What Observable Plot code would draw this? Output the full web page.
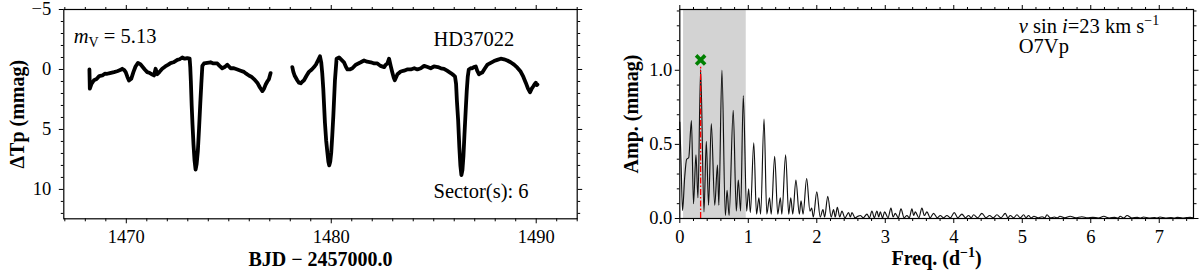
<!DOCTYPE html>
<html>
<head>
<meta charset="utf-8">
<script src="https://cdn.jsdelivr.net/npm/d3@7"></script>
<script src="https://cdn.jsdelivr.net/npm/@observablehq/plot@0.6"></script>
<style>
  html, body { margin: 0; padding: 0; background: #fff; }
  #wrap { display: flex; width: 1200px; height: 272px; overflow: hidden; }
  #wrap svg { flex: none; }
</style>
</head>
<body>
<div id="wrap"></div>
<script>
// ---------------- Light curve (left panel) ----------------
const lcTime1 = [1468.20,1468.22,1468.30,1468.42,1468.55,1468.68,1468.83,1468.95,1469.07,1469.20,1469.40,1469.55,1469.70,1469.80,1469.90,1469.97,1470.05,1470.13,1470.24,1470.35,1470.45,1470.57,1470.68,1470.78,1470.90,1471.02,1471.15,1471.25,1471.35,1471.43,1471.51,1471.62,1471.75,1471.90,1472.05,1472.16,1472.30,1472.49,1472.60,1472.73,1472.85,1472.98,1473.09,1473.12,1473.15,1473.19,1473.23,1473.28,1473.33,1473.38,1473.43,1473.49,1473.55,1473.61,1473.66,1473.71,1473.79,1473.95,1474.11,1474.25,1474.44,1474.55,1474.68,1474.80,1474.93,1475.09,1475.25,1475.42,1475.58,1475.74,1475.85,1475.98,1476.10,1476.23,1476.39,1476.52,1476.64,1476.72,1476.80,1476.88,1476.96,1477.04];
const lcMag1  = [0.0,1.6,1.2,0.9,0.8,0.55,0.5,0.35,0.36,0.3,0.22,0.15,0.05,-0.06,0.05,0.22,0.6,0.92,0.78,0.2,-0.25,-0.55,-0.45,-0.25,0.0,0.22,0.3,0.4,0.5,-0.06,0.4,0.2,-0.06,-0.25,-0.4,-0.53,-0.6,-0.8,-0.85,-1.0,-0.9,-0.95,-0.9,-0.2,1.0,3.0,4.6,6.3,7.6,8.35,7.9,6.8,4.9,2.8,1.2,-0.3,-0.5,-0.55,-0.6,-0.5,-0.5,-0.3,-0.1,-0.2,-0.4,-0.1,-0.1,0.0,0.1,0.2,0.35,0.5,0.6,0.8,1.1,1.5,1.8,1.6,1.25,1.0,0.8,0.3];

const lcTime2 = [1478.10,1478.15,1478.21,1478.34,1478.42,1478.51,1478.60,1478.67,1478.80,1478.91,1479.05,1479.16,1479.25,1479.35,1479.45,1479.51,1479.56,1479.61,1479.69,1479.75,1479.81,1479.86,1479.90,1479.95,1480.00,1480.05,1480.10,1480.18,1480.26,1480.38,1480.50,1480.62,1480.72,1480.79,1480.90,1481.03,1481.20,1481.32,1481.44,1481.60,1481.75,1481.93,1482.10,1482.25,1482.40,1482.58,1482.66,1482.74,1482.82,1482.90,1482.98,1483.05,1483.10,1483.23,1483.39,1483.55,1483.70,1483.88,1484.05,1484.20,1484.37,1484.53,1484.70,1484.85,1485.01,1485.20,1485.35,1485.50,1485.65,1485.83,1485.95,1486.04,1486.09,1486.13,1486.19,1486.25,1486.30,1486.35,1486.40,1486.45,1486.50,1486.56,1486.61,1486.66,1486.71,1486.80,1486.88,1486.96,1487.05,1487.12,1487.21,1487.30,1487.37,1487.50,1487.62,1487.78,1487.94,1488.10,1488.27,1488.43,1488.59,1488.75,1488.92,1489.08,1489.24,1489.37,1489.49,1489.60,1489.70,1489.78,1489.86,1489.93,1489.98,1490.03,1490.06];
const lcMag2  = [-0.2,0.2,0.5,0.9,1.1,1.15,1.0,0.9,0.5,0.2,0.0,-0.2,-0.4,-0.75,-1.1,-0.6,0.3,1.6,4.4,5.9,6.9,7.7,8.0,7.7,6.9,5.5,3.9,0.9,-0.9,-1.0,-0.8,-0.6,-0.2,0.0,0.0,-0.1,-0.4,-0.5,-0.6,-0.75,-0.65,-0.6,-0.5,-0.5,-0.3,-0.2,-0.4,-0.5,-0.9,-0.3,0.25,0.7,0.9,0.4,0.17,0.1,0.0,0.0,-0.1,0.0,-0.1,-0.3,-0.2,-0.1,-0.25,-0.2,-0.1,-0.05,0.1,0.3,0.45,0.6,1.2,2.6,4.2,6.5,8.0,8.8,8.4,7.2,5.4,3.4,1.8,0.6,0.0,-0.1,-0.1,-0.2,-0.25,0.1,0.4,0.3,0.25,-0.1,-0.4,-0.55,-0.7,-0.8,-0.9,-0.85,-0.75,-0.6,-0.4,-0.15,0.17,0.6,1.1,1.6,1.9,1.6,1.4,1.2,1.1,1.3,1.25];

const lcXMajor = [1470, 1480, 1490];
const lcXMinor = [1467,1468,1469,1471,1472,1473,1474,1475,1476,1477,1478,1479,1481,1482,1483,1484,1485,1486,1487,1488,1489,1491,1492];
const lcYMajor = [-5, 0, 5, 10];
const lcYMinor = [-4,-3,-2,-1,1,2,3,4,6,7,8,9,11,12];

// ---------------- Periodogram (right panel) ----------------
const pgFreq = [0.000,0.020,0.040,0.070,0.100,0.130,0.170,0.200,0.236,0.265,0.304,0.353,0.387,0.420,0.460,0.510,0.550,0.570,0.615,0.665,0.690,0.720,0.780,0.825,0.854,0.888,0.927,0.976,1.005,1.030,1.080,1.120,1.155,1.180,1.230,1.270,1.310,1.335,1.385,1.430,1.468,1.490,1.545,1.590,1.620,1.650,1.695,1.745,1.770,1.800,1.852,1.900,1.925,1.950,2.000,2.050,2.090,2.115,2.160,2.210,2.245,2.270,2.300,2.335,2.367,2.410,2.465,2.490,2.513,2.560,2.600,2.635,2.680,2.732,2.770,2.805,2.840,2.878,2.905,2.927,2.960,2.990,3.040,3.083,3.115,3.146,3.190,3.229,3.275,3.316,3.350,3.389,3.415,3.438,3.490,3.535,3.570,3.608,3.655,3.705,3.760,3.803,3.850,3.900,3.950,4.007,4.060,4.119,4.170,4.216,4.255,4.290,4.350,4.411,4.470,4.523,4.575,4.630,4.690,4.752,4.790,4.825,4.875,4.922,4.970,5.020,5.055,5.092,5.130,5.170,5.230,5.290,5.330,5.360,5.410,5.470,5.510,5.550,5.620,5.700,5.780,5.870,5.950,6.030,6.110,6.190,6.270,6.350,6.400,6.430,6.480,6.530,6.600,6.680,6.730,6.770,6.850,6.930,6.970,7.010,7.090,7.170,7.220,7.260,7.340,7.400,7.450,7.500];
const pgAmp  = [0.65,0.35,0.054,0.27,0.40,0.41,0.66,0.10,0.43,0.14,1.005,0.045,0.52,0.09,0.64,0.09,0.36,0.09,1.00,0.02,0.19,0.02,0.73,0.05,0.26,0.05,0.83,0.05,0.20,0.04,0.51,0.03,0.14,0.03,0.67,0.03,0.14,0.03,0.42,0.03,0.14,0.03,0.43,0.03,0.14,0.03,0.26,0.03,0.12,0.03,0.27,0.05,0.07,0.01,0.18,0.01,0.06,0.01,0.15,0.01,0.06,0.01,0.075,0.01,0.05,0.005,0.04,0.01,0.04,0.005,0.015,0.02,0.005,0.03,0.005,0.05,0.005,0.05,0.01,0.045,0.005,0.045,0.005,0.07,0.01,0.035,0.005,0.065,0.005,0.02,0.005,0.065,0.02,0.045,0.005,0.07,0.02,0.045,0.005,0.035,0.005,0.02,0.005,0.02,0.005,0.04,0.005,0.03,0.005,0.02,0.005,0.025,0.005,0.035,0.005,0.02,0.005,0.025,0.005,0.035,0.005,0.02,0.005,0.025,0.005,0.025,0.005,0.02,0.004,0.015,0.004,0.012,0.004,0.025,0.004,0.01,0.004,0.015,0.004,0.015,0.004,0.012,0.004,0.008,0.003,0.015,0.003,0.008,0.003,0.015,0.003,0.02,0.003,0.008,0.003,0.01,0.003,0.007,0.003,0.01,0.003,0.007,0.003,0.008,0.003,0.006,0.008,0.004];

const windowRange = [0.055, 0.97];   // shaded low-frequency region
const peakFreq = 0.304;
const peakLine = 1.02;
const peakMarker = 1.07;

const pgXMajor = [0, 1, 2, 3, 4, 5, 6, 7];
const pgXMinor = [0.2,0.4,0.6,0.8,1.2,1.4,1.6,1.8,2.2,2.4,2.6,2.8,3.2,3.4,3.6,3.8,4.2,4.4,4.6,4.8,5.2,5.4,5.6,5.8,6.2,6.4,6.6,6.8,7.2,7.4];
const pgYMajor = [0, 0.5, 1.0];
const pgYMinor = [0.1,0.2,0.3,0.4,0.6,0.7,0.8,0.9,1.1,1.2,1.3,1.4];

// ---------------- Texts ----------------
const lcXLabel = "BJD \u2212 2457000.0";
const lcYLabel = "\u0394Tp (mmag)";
const lcMagText = "mV = 5.13";
const lcStarText = "HD37022";
const lcSectorText = "Sector(s): 6";
const pgXLabel = "Freq. (d\u22121)";
const pgYLabel = "Amp. (mmag)";
const pgVsiniText = "v sin i=23 km s\u22121";
const pgSpTypeText = "O7Vp";

const FONT = '"Liberation Serif", "DejaVu Serif", serif';
const TICKFS = 18.5;
const TXTFS = 20.5;
const LABFS = 20;

function frameAxes(xMajor, xMinor, yMajor, yMinor, xFmt, yFmt, yPad) {
  const common = {stroke: "black", strokeWidth: 1, label: null};
  return [
    Plot.axisX(xMajor, {...common, anchor: "bottom", tickSize: 5, tickPadding: 6, tickFormat: xFmt, fontSize: TICKFS}),
    Plot.axisX(xMinor, {...common, anchor: "bottom", tickSize: 3, tickFormat: () => ""}),
    Plot.axisX(xMajor, {...common, anchor: "top", tickSize: 5, tickFormat: () => ""}),
    Plot.axisX(xMinor, {...common, anchor: "top", tickSize: 3, tickFormat: () => ""}),
    Plot.axisY(yMajor, {...common, anchor: "left", tickSize: 4.5, tickPadding: yPad, tickFormat: yFmt, fontSize: TICKFS}),
    Plot.axisY(yMinor, {...common, anchor: "left", tickSize: 2.5, tickFormat: () => ""}),
    Plot.axisY(yMajor, {...common, anchor: "right", tickSize: 4.5, tickFormat: () => ""}),
    Plot.axisY(yMinor, {...common, anchor: "right", tickSize: 2.5, tickFormat: () => ""}),
    Plot.frame({stroke: "black", strokeWidth: 1.2})
  ];
}

const lcData = [
  ...lcTime1.map((t, i) => ({t, m: lcMag1[i], seg: 1})),
  ...lcTime2.map((t, i) => ({t, m: lcMag2[i], seg: 2}))
];

const left = Plot.plot({
  width: 600, height: 272,
  marginLeft: 63.3, marginRight: 23.3, marginTop: 9, marginBottom: 53.7,
  style: {fontFamily: FONT, fontSize: TICKFS + "px", background: "white", color: "black"},
  x: {domain: [1466.95, 1492.0]},
  y: {domain: [-5, 12.45], reverse: true},
  marks: [
    Plot.line(lcData, {x: "t", y: "m", z: "seg", stroke: "black", strokeWidth: 3.8, strokeLinejoin: "round", strokeLinecap: "round"}),
    ...frameAxes(lcXMajor, lcXMinor, lcYMajor, lcYMinor, d => String(d), d => (d < 0 ? "\u2212" + Math.abs(d) : String(d)), 8),
    Plot.text([lcXLabel], {text: d => d, frameAnchor: "bottom", dy: 46.7, textAnchor: "middle", lineAnchor: "bottom", fontSize: LABFS, fontWeight: "bold", fill: "black"}),
    Plot.text([lcYLabel], {text: d => d, frameAnchor: "left", dx: -46.3, rotate: -90, textAnchor: "middle", lineAnchor: "middle", fontSize: LABFS, fontWeight: "bold", fill: "black"}),
    Plot.text([lcMagText], {text: d => d, frameAnchor: "top-left", dx: 10, dy: 33, textAnchor: "start", lineAnchor: "bottom", fontSize: TXTFS, fill: "black"}),
    Plot.text([lcStarText], {text: d => d, frameAnchor: "top-left", dx: 369.7, dy: 36, textAnchor: "start", lineAnchor: "bottom", fontSize: TXTFS, fill: "black"}),
    Plot.text([lcSectorText], {text: d => d, frameAnchor: "top-left", dx: 369.7, dy: 188.7, textAnchor: "start", lineAnchor: "bottom", fontSize: TXTFS, fill: "black"})
  ]
});

const pgData = pgFreq.map((f, i) => ({f, a: pgAmp[i]}));

const right = Plot.plot({
  width: 600, height: 272,
  marginLeft: 79.3, marginRight: 7, marginTop: 9, marginBottom: 54,
  style: {fontFamily: FONT, fontSize: TICKFS + "px", background: "white", color: "black"},
  x: {domain: [0, 7.5]},
  y: {domain: [0, 1.41]},
  marks: [
    Plot.rect([windowRange], {x1: d => d[0], x2: d => d[1], fill: "#d3d3d3"}),
    Plot.line(pgData, {x: "f", y: "a", stroke: "#111", strokeWidth: 1.15, curve: "monotone-x"}),
    Plot.ruleX([peakFreq], {x: d => d, y1: 0, y2: peakLine, stroke: "red", strokeWidth: 1.3, strokeDasharray: "6,2,1.5,2"}),
    Plot.dot([[peakFreq, peakMarker]], {x: d => d[0], y: d => d[1], symbol: "times", r: 4.2, stroke: "green", strokeWidth: 3.6}),
    ...frameAxes(pgXMajor, pgXMinor, pgYMajor, pgYMinor, d => String(d), d => d3.format(".1f")(d), 3),
    Plot.text([pgXLabel], {text: d => d, frameAnchor: "bottom", dy: 46.7, textAnchor: "middle", lineAnchor: "bottom", fontSize: LABFS, fontWeight: "bold", fill: "black"}),
    Plot.text([pgYLabel], {text: d => d, frameAnchor: "left", dx: -47.8, rotate: -90, textAnchor: "middle", lineAnchor: "middle", fontSize: LABFS, fontWeight: "bold", fill: "black"}),
    Plot.text([pgVsiniText], {text: d => d, frameAnchor: "top-left", dx: 339, dy: 23.3, textAnchor: "start", lineAnchor: "bottom", fontSize: TXTFS, fill: "black"}),
    Plot.text([pgSpTypeText], {text: d => d, frameAnchor: "top-left", dx: 339, dy: 43.7, textAnchor: "start", lineAnchor: "bottom", fontSize: TXTFS, fill: "black"})
  ]
});

const wrap = document.getElementById("wrap");
wrap.appendChild(left);
wrap.appendChild(right);

function rich(svg, plain, parts) {
  d3.select(svg).selectAll("text")
    .filter(function () { return this.textContent === plain; })
    .each(function () {
      const t = d3.select(this);
      t.text(null);
      for (const p of parts) {
        const s = t.append("tspan").text(p.t);
        if (p.italic) s.attr("font-style", "italic");
        if (p.size) s.attr("font-size", p.size);
        if (p.dy) s.attr("dy", p.dy);
      }
    });
}
rich(left, lcMagText, [{t: "m", italic: true}, {t: "V", size: 14, dy: 4}, {t: " = 5.13", dy: -4}]);
rich(right, pgVsiniText, [{t: "v", italic: true}, {t: " sin "}, {t: "i", italic: true}, {t: "=23 km s"}, {t: "\u22121", size: 14, dy: -8}]);
rich(right, pgXLabel, [{t: "Freq. (d"}, {t: "\u22121", size: 14, dy: -8}, {t: ")", dy: 8}]);
</script>
</body>
</html>
